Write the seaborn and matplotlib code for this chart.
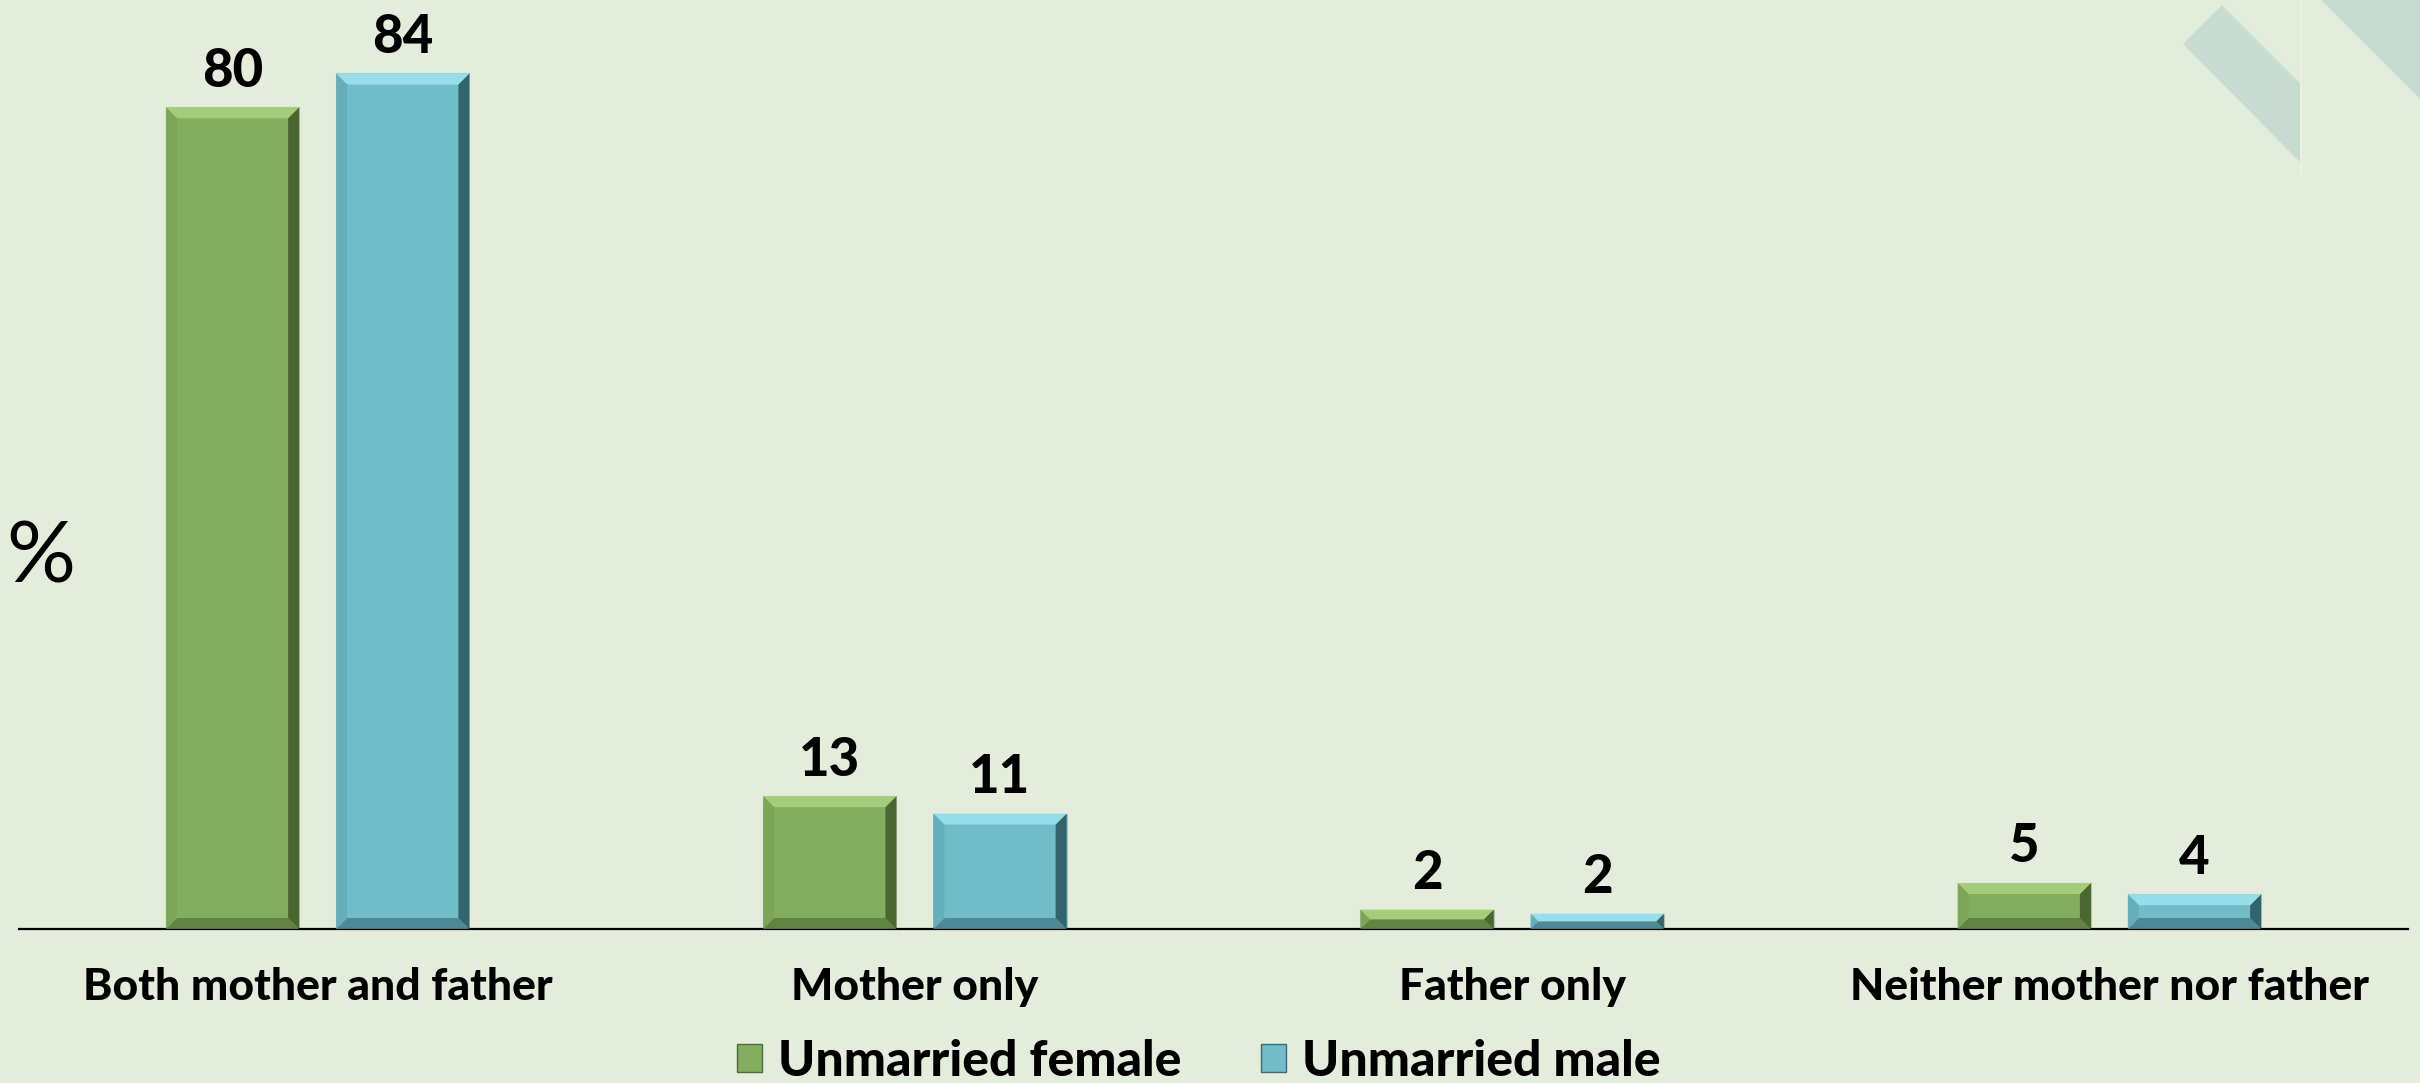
import matplotlib
matplotlib.use("Agg")
import matplotlib.pyplot as plt
import seaborn as sns
import pandas as pd
import numpy as np
from matplotlib.patches import Polygon

# ---- data ----
categories = ["Both mother and father", "Mother only", "Father only", "Neither mother nor father"]
series_names = ["Unmarried female", "Unmarried male"]
female = [80.4, 13.0, 1.9, 4.5]
male = [83.7, 11.3, 1.5, 3.4]
female_labels = ["80", "13", "2", "5"]
male_labels = ["84", "11", "2", "4"]

df = pd.DataFrame({
    "category": categories * 2,
    "series": [series_names[0]] * len(categories) + [series_names[1]] * len(categories),
    "value": female + male,
})

BG = "#E4EDDC"
GREEN = "#84AE5F"
BLUE = "#6FBDC9"
FONT = ["Lato", "DejaVu Sans"]
WEIGHT = "black"

sns.set_theme(style="white")
plt.rcParams["font.family"] = FONT
plt.rcParams["text.color"] = "black"

W, H = 2420, 1084
fig = plt.figure(figsize=(W / 100, 10.839), dpi=100, facecolor=BG)

# decorative shapes (top-right of slide)
def fpoly(pts, color):
    p = Polygon([(x / W, 1 - y / H) for x, y in pts], closed=True,
                transform=fig.transFigure, facecolor=color, edgecolor="none", zorder=0)
    fig.patches.append(p)

fpoly([(2183, 45), (2222, 6), (2300, 84), (2300, 163)], "#C6DCD1")
fpoly([(2320, 0), (2420, 0), (2420, 100)], "#C6DCD1")
fig.lines.append(plt.Line2D([2301 / W, 2301 / W], [1, 1 - 180 / H], transform=fig.transFigure,
                            color="#EAF0E6", lw=1.5, zorder=0))

ax = fig.add_axes([19 / W, 154 / H, 2389 / W, 920 / H])
ax.set_facecolor("none")

sns.barplot(data=df, x="category", y="value", hue="series", order=categories,
            hue_order=series_names, palette=[GREEN, BLUE], width=0.57, gap=0.217,
            saturation=1, edgecolor="#B4C2A6", linewidth=0.8, ax=ax, legend=False)

ax.set_xlim(-0.5, len(categories) - 0.5)
ax.set_ylim(0, 90)
ax.set_xlabel("")
ax.set_ylabel("")
ax.set_yticks([])
for s in ["left", "right", "top"]:
    ax.spines[s].set_visible(False)
ax.spines["bottom"].set_color("black")
ax.spines["bottom"].set_linewidth(1.6)
ax.tick_params(axis="x", length=0, pad=27)
for lbl in ax.get_xticklabels():
    lbl.set_fontsize(32)
    lbl.set_fontweight(WEIGHT)
    lbl.set_color("black")

# bevel effect on each bar
bevel_cols = {
    GREEN: dict(top="#A9D07F", left="#7DA456", right="#445F2C", bottom="#5E7F40"),
    BLUE: dict(top="#9BE2EE", left="#62AEBA", right="#2D5963", bottom="#4A8591"),
}
inv = ax.transData.inverted()
for cont, col in zip(ax.containers, [GREEN, BLUE]):
    cols = bevel_cols[col]
    for rect in cont:
        x0, y0 = rect.get_x(), rect.get_y()
        x1, y1 = x0 + rect.get_width(), y0 + rect.get_height()
        (px0, py0), (px1, py1) = ax.transData.transform([(x0, y0), (x1, y1)])
        b = min(11.0, (py1 - py0) / 2.0, (px1 - px0) / 2.0)
        outer = [(px0, py0), (px1, py0), (px1, py1), (px0, py1)]
        inner = [(px0 + b, py0 + b), (px1 - b, py0 + b), (px1 - b, py1 - b), (px0 + b, py1 - b)]
        faces = {
            "bottom": [outer[0], outer[1], inner[1], inner[0]],
            "right": [outer[1], outer[2], inner[2], inner[1]],
            "top": [outer[2], outer[3], inner[3], inner[2]],
            "left": [outer[3], outer[0], inner[0], inner[3]],
        }
        for k, pts in faces.items():
            dpts = inv.transform(pts)
            ax.add_patch(Polygon(dpts, closed=True, facecolor=cols[k], edgecolor="none",
                                 alpha=0.9, zorder=3))

# value labels
for cont, labs in zip(ax.containers, [female_labels, male_labels]):
    ax.bar_label(cont, labels=labs, padding=9, fontsize=38, fontweight=WEIGHT, color="black")

# % label
fig.text(41 / W, 1 - 559 / H, "%", fontsize=62, ha="center", va="center", color="black")

# legend
handles = [plt.Rectangle((0, 0), 1, 1, facecolor=c, edgecolor="#4E6B3A" if c == GREEN else "#3A6A73",
                         linewidth=1.0) for c in [GREEN, BLUE]]
fig.legend(handles, series_names, loc="center", bbox_to_anchor=(1199 / W, 22 / H), ncol=2,
           frameon=False, prop=dict(family=FONT, weight=WEIGHT, size=36), labelcolor="black",
           handlelength=0.5, handleheight=0.5, handletextpad=0.32, columnspacing=1.6,
           borderaxespad=0, borderpad=0)

fig.savefig("out.png", dpi=100, facecolor=BG)
